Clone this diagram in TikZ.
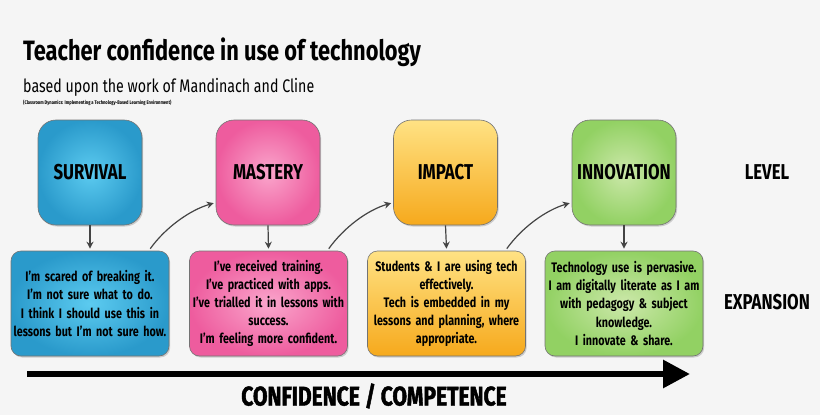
\documentclass[tikz,border=0pt]{standalone}
\usepackage{fontspec}
\setmainfont{Fira Sans}[FakeStretch=0.78]
\newfontfamily\heavyfont{Fira Sans}[FakeStretch=0.78,BoldFeatures={FakeBold=1.6}]
\usetikzlibrary{shadows,arrows.meta,calc}
\definecolor{bg}{HTML}{F5F5F5}
\definecolor{blueA}{HTML}{5CCBF0}
\definecolor{blueB}{HTML}{2A9ACB}
\definecolor{pinkA}{HTML}{FAA6CC}
\definecolor{pinkB}{HTML}{EE5C9E}
\definecolor{orA}{HTML}{FFE284}
\definecolor{orB}{HTML}{F6A91C}
\definecolor{grA}{HTML}{CCE8AA}
\definecolor{grB}{HTML}{92D163}
\definecolor{arrc}{HTML}{444444}
\begin{document}
\begin{tikzpicture}[x=1pt,y=-1pt,
  lvl/.style={rounded corners=18pt, minimum width=104pt, minimum height=105pt,
    draw=black!55, line width=0.6pt,
    drop shadow={shadow xshift=1.2pt, shadow yshift=-1.5pt, opacity=0.35},
    font=\bfseries\fontsize{21.5}{23}\selectfont},
  desc/.style={rounded corners=10pt, minimum width=158pt, minimum height=105pt,
    text width=156pt, align=center, inner sep=1pt,
    draw=black!55, line width=0.6pt,
    drop shadow={shadow xshift=1.2pt, shadow yshift=-1.5pt, opacity=0.35},
    font=\bfseries\fontsize{13.8}{18.2}\selectfont},
  down/.style={draw=arrc, line width=1.2pt, -{Stealth[length=7pt,width=7pt]}},
  curv/.style={draw=arrc, line width=1.2pt, -{Stealth[length=7pt,width=7pt]}},
  side/.style={font=\bfseries\fontsize{21.5}{23}\selectfont}
]
\fill[bg] (0,0) rectangle (820,415);
\useasboundingbox (0,0) rectangle (820,415);

\node[anchor=base west, font=\bfseries\fontsize{28}{30}\selectfont, inner sep=0] (title) at (23,60) {Teacher confidence in use of technology};
\node[anchor=base west, font=\fontsize{18.2}{20}\selectfont, inner sep=0] (sub) at (23,92) {based upon the work of Mandinach and Cline};
\node[anchor=base west, font=\bfseries\fontsize{5.2}{6}\selectfont, inner sep=0] (ref) at (23,104) {(Classroom Dynamics: Implementing a Technology-Based Learning Environment)};

\node[lvl, inner color=blueA, outer color=blueB] (l1) at (90,172.5) {SURVIVAL};
\node[lvl, inner color=pinkA, outer color=pinkB] (l2) at (268,172.5) {MASTERY};
\node[lvl, top color=orA, bottom color=orB] (l3) at (445.5,172.5) {IMPACT};
\node[lvl, inner color=grA, outer color=grB] (l4) at (624,172.5) {INNOVATION};

\node[desc, inner color=blueA, outer color=blueB] (d1) at (90,303.5) {I'm scared of breaking it.\\I'm not sure what to do.\\I think I should use this in\\lessons but I'm not sure how.};
\node[desc, inner color=pinkA, outer color=pinkB] (d2) at (268.5,303.5) {I've received training.\\I've practiced with apps.\\I've trialled it in lessons with\\success.\\I'm feeling more confident.};
\node[desc, top color=orA, bottom color=orB] (d3) at (446.5,303.5) {Students \& I are using tech\\effectively.\\Tech is embedded in my\\lessons and planning, where\\appropriate.};
\node[desc, inner color=grA, outer color=grB] (d4) at (624,303.5) {Technology use is pervasive.\\I am digitally literate as I am\\with pedagogy \& subject\\knowledge.\\I innovate \& share.};

\node[side] (level) at (767,172) {LEVEL};
\node[side] (exp) at (767,302) {EXPANSION};

\foreach \i in {1,2,3,4} {
  \draw[down] (l\i.south) -- ($(d\i.north)+(0,-2)$);
}

\foreach \a/\b in {1/2,2/3,3/4} {
  \coordinate (s\a) at ($(d\a.north)!0.76!(d\a.north east)+(0,-2)$);
  \coordinate (e\b) at ($(l\b.south west)!0.42!(l\b.west)+(-2,0)$);
  \draw[curv] (s\a) .. controls +(15,-21) and +(-24,7) .. (e\b);
}

\coordinate (a0) at (27,374);
\coordinate (a1) at (690,374);
\draw[line width=6pt, -{Triangle[length=27pt,width=27pt]}] (a0) -- (a1);
\node[font=\heavyfont\bfseries\fontsize{27}{29}\selectfont] (conf) at (374,396) {CONFIDENCE / COMPETENCE};
\end{tikzpicture}
\end{document}
